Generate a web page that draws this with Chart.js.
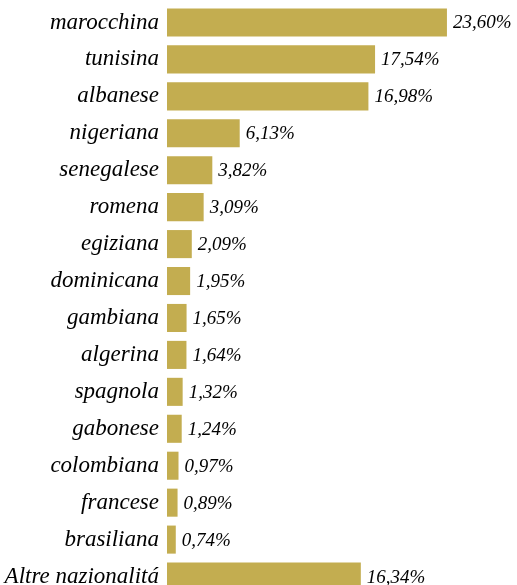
<!DOCTYPE html>
<html lang="it">
<head>
    <meta charset="UTF-8">
    <title>Nazionalità</title>
    <script src="https://cdn.jsdelivr.net/npm/chart.js"></script>
    <style>
        html, body { margin: 0; padding: 0; background: #fff; overflow: hidden; }
        #wrap { position: relative; width: 517px; height: 596px; }
    </style>
</head>
<body>
    <div id="wrap"><canvas id="barChart"></canvas></div>

    <script>
        // dati
        const nazionalita = ["marocchina", "tunisina", "albanese", "nigeriana", "senegalese", "romena",
            "egiziana", "dominicana", "gambiana", "algerina", "spagnola", "gabonese",
            "colombiana", "francese", "brasiliana", "Altre nazionalitá"];
        const percentuali = [23.60, 17.54, 16.98, 6.13, 3.82, 3.09, 2.09, 1.95, 1.65, 1.64, 1.32, 1.24,
            0.97, 0.89, 0.74, 16.34];

        const serif = "'Liberation Serif', 'Times New Roman', serif";

        // etichette dei valori a destra delle barre
        const valueLabels = {
            id: "valueLabels",
            afterDatasetsDraw(chart) {
                const ctx = chart.ctx;
                const meta = chart.getDatasetMeta(0);
                ctx.save();
                ctx.font = "italic 19px " + serif;
                ctx.fillStyle = "#000";
                ctx.textAlign = "left";
                ctx.textBaseline = "middle";
                meta.data.forEach((bar, i) => {
                    let txt = percentuali[i].toFixed(2).replace(".", ",") + "%";
                    ctx.fillText(txt, bar.x + 6, bar.y + 1);
                });
                ctx.restore();
            }
        };

        new Chart(document.getElementById("barChart"), {
            type: "bar",
            data: {
                labels: nazionalita,
                datasets: [{
                    data: percentuali,
                    backgroundColor: "#c3ad50",
                    borderWidth: 0,
                    barPercentage: 0.76,
                    categoryPercentage: 1
                }]
            },
            options: {
                indexAxis: "y",
                responsive: true,
                maintainAspectRatio: false,
                animation: false,
                layout: { padding: { top: 4, right: 6, bottom: 1, left: 0 } },
                plugins: {
                    legend: { display: false },
                    tooltip: { enabled: false }
                },
                scales: {
                    x: {
                        display: false,
                        min: 0,
                        max: 29
                    },
                    y: {
                        grid: { display: false, drawTicks: false },
                        border: { display: false },
                        afterFit(scale) {
                            scale.width = 167;
                            scale.paddingTop = 0;
                            scale.paddingBottom = 0;
                        },
                        ticks: {
                            color: "#000",
                            padding: 8,
                            font: { family: serif, size: 23, style: "italic" }
                        }
                    }
                }
            },
            plugins: [valueLabels]
        });
    </script>
</body>
</html>
